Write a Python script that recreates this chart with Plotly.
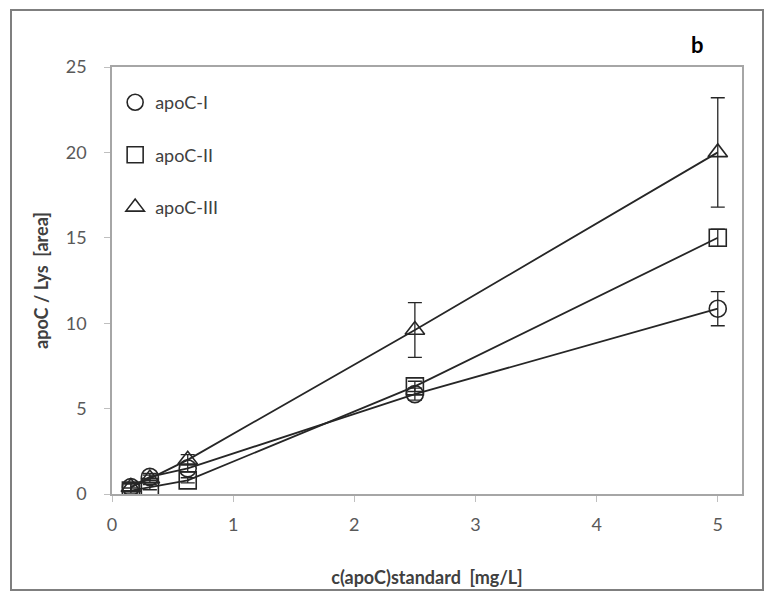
import plotly.graph_objects as go

conc = [0.156, 0.3125, 0.625, 2.5, 5.0]
series_names = ["apoC-I", "apoC-II", "apoC-III"]
apoc1 = [0.4, 1.0, 1.5, 5.85, 10.85]
apoc1_err = [0.2, 0.2, 0.2, 0.35, 1.0]
apoc2 = [0.2, 0.4, 0.8, 6.3, 15.0]
apoc2_err = [0.15, 0.15, 0.15, 0.3, 0.5]
apoc3 = [0.4, 0.9, 2.0, 9.6, 20.0]
apoc3_err = [0.2, 0.2, 0.3, 1.6, 3.2]
x_ticks = [0, 1, 2, 3, 4, 5]
y_ticks = [0, 5, 10, 15, 20, 25]

symbols = ["circle-open", "square-open", "triangle-up-open"]
values = [apoc1, apoc2, apoc3]
errors = [apoc1_err, apoc2_err, apoc3_err]

fig = go.Figure()
for name, ys, es, sym in zip(series_names, values, errors, symbols):
    fig.add_trace(go.Scatter(
        x=conc, y=ys, mode="lines", showlegend=False,
        line=dict(color="#262626", width=1.8), hoverinfo="skip"))
for i, (name, ys, es, sym) in enumerate(zip(series_names, values, errors, symbols)):
    fig.add_trace(go.Scatter(
        x=conc, y=ys, mode="markers", name=name, legendgroup=name,
        marker=dict(symbol=sym, size=17, color="#262626", line=dict(width=1.6, color="#262626")),
        error_y=dict(type="data", array=es, visible=True, color="#262626", thickness=1.3, width=7)))

fig.update_layout(
    width=767, height=592,
    margin=dict(l=112, r=25, t=67, b=98),
    paper_bgcolor="white", plot_bgcolor="white",
    font=dict(family="Lato, sans-serif", color="#595959", size=18),
    legend=dict(x=0.005, y=0.96, xanchor="left", yanchor="top",
                bgcolor="rgba(0,0,0,0)", font=dict(size=18, color="#404040"),
                traceorder="grouped", tracegroupgap=26, itemwidth=30),
    xaxis=dict(range=[0, 5.2], tickvals=x_ticks, showgrid=False, zeroline=False,
               showline=True, linecolor="#a6a6a6", linewidth=1.5, mirror=True,
               ticks="outside", ticklen=6, tickcolor="#bfbfbf", ticklabelstandoff=8,
               tickfont=dict(size=18, color="#595959"), automargin=False,
               title=dict(text="<b>c(apoC)standard  [mg/L]</b>", font=dict(size=18, color="#404040"), standoff=37)),
    yaxis=dict(range=[0, 25], tickvals=y_ticks, showgrid=False, zeroline=False,
               showline=True, linecolor="#a6a6a6", linewidth=1.5, mirror=True,
               ticks="outside", ticklen=6, tickcolor="#bfbfbf", ticklabelstandoff=14,
               tickfont=dict(size=18, color="#595959"), automargin=False,
               title=dict(text="<b>apoC / Lys  [area]</b>", font=dict(size=18, color="#404040"), standoff=12)),
    shapes=[dict(type="rect", xref="paper", yref="paper",
                 x0=(11 - 112) / 630, x1=(763 - 112) / 630,
                 y0=(494 - 590) / 427, y1=(494 - 10) / 427,
                 line=dict(color="#7f7f7f", width=2))],
    annotations=[dict(text="<b>b</b>", xref="paper", yref="paper",
                      x=(697 - 112) / 630, y=(494 - 45) / 427, yanchor="middle", xanchor="center",
                      showarrow=False, font=dict(size=22, color="#000000"))],
)

fig.write_html("out.html")
